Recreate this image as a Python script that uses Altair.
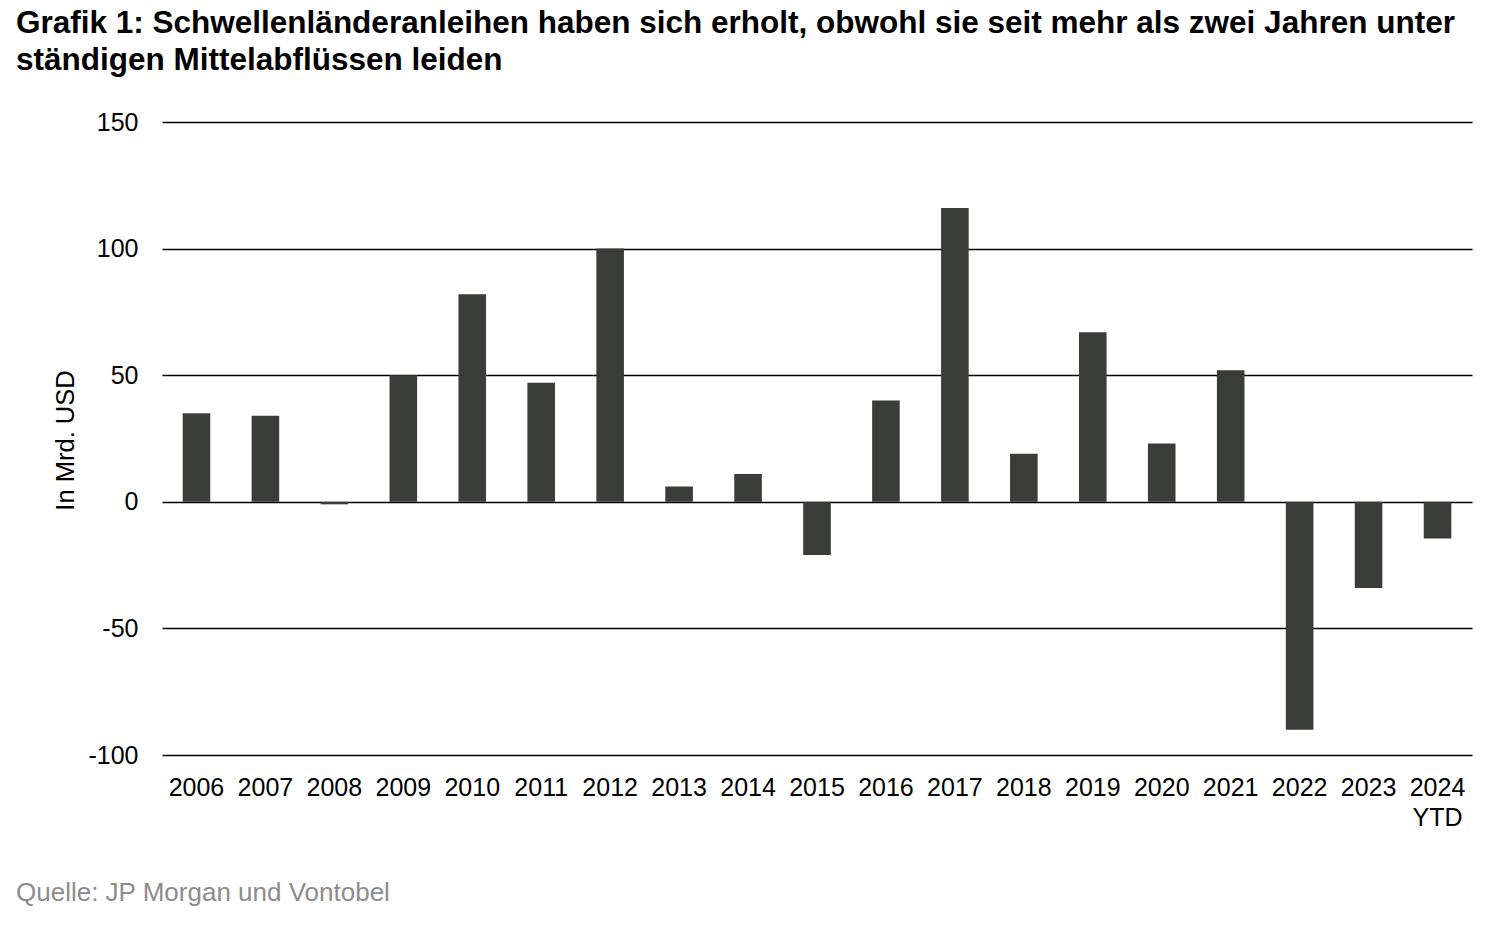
import altair as alt
import pandas as pd

# Daten (in Mrd. USD)
jahre = ["2006", "2007", "2008", "2009", "2010", "2011", "2012", "2013", "2014", "2015",
         "2016", "2017", "2018", "2019", "2020", "2021", "2022", "2023", "2024 YTD"]
flows = [35, 34, -1, 50, 82, 47, 100, 6, 11, -21,
         40, 116, 19, 67, 23, 52, -90, -34, -14.5]
y_ticks = [-100, -50, 0, 50, 100, 150]

titel = [
    "Grafik 1: Schwellenländeranleihen haben sich erholt, obwohl sie seit mehr als zwei Jahren unter",
    "ständigen Mittelabflüssen leiden",
]
quelle = "Quelle: JP Morgan und Vontobel"

FONT = "Liberation Sans"
COR_BARRA = "#3a3c39"

df = pd.DataFrame({"Jahr": jahre, "Wert": flows})
df_quelle = pd.DataFrame({"txt": [quelle]})

barras = alt.Chart(df).mark_bar(color=COR_BARRA).encode(
    x=alt.X(
        "Jahr:N",
        sort=jahre,
        title=None,
        scale=alt.Scale(paddingInner=0.6, paddingOuter=0.3),
        axis=alt.Axis(
            labelAngle=0,
            labelFont=FONT,
            labelFontSize=25,
            labelColor="#000000",
            labelPadding=20,
            labelLineHeight=30,
            labelExpr="datum.value == '2024 YTD' ? ['2024', 'YTD'] : datum.label",
            ticks=False,
            domain=False,
            grid=False,
        ),
    ),
    y=alt.Y(
        "Wert:Q",
        title="In Mrd. USD",
        scale=alt.Scale(domain=[-100, 150], nice=False),
        axis=alt.Axis(
            values=y_ticks,
            labelExpr="'' + datum.value",
            labelFont=FONT,
            labelFontSize=25,
            labelColor="#000000",
            labelPadding=24,
            ticks=False,
            domain=False,
            grid=True,
            gridColor="#000000",
            gridWidth=1.5,
            gridOpacity=1,
            titleFont=FONT,
            titleFontSize=25.5,
            titleFontWeight="normal",
            titleColor="#000000",
            titleBaseline="middle",
            titleX=-97,
            titleY=318,
        ),
    ),
)

rodape = alt.Chart(df_quelle).mark_text(
    align="left", baseline="middle", font=FONT, fontSize=26, color="#8c8c8c"
).encode(
    x=alt.value(-146),
    y=alt.value(771),
    text="txt:N",
)

chart = alt.layer(barras, rodape).properties(
    width=1310,
    height=633,
    autosize=alt.AutoSizeParams(type="none"),
    padding={"left": 154, "top": 114, "right": 20, "bottom": 165},
    background="white",
    title=alt.Title(
        text=titel,
        anchor="start",
        frame="group",
        dx=-146,
        offset=34,
        font=FONT,
        fontSize=31.5,
        fontWeight="bold",
        color="#000000",
        lineHeight=37,
    ),
).configure_view(
    stroke=None
)

chart.save("out.html", embed_options={"renderer": "svg", "actions": False})
